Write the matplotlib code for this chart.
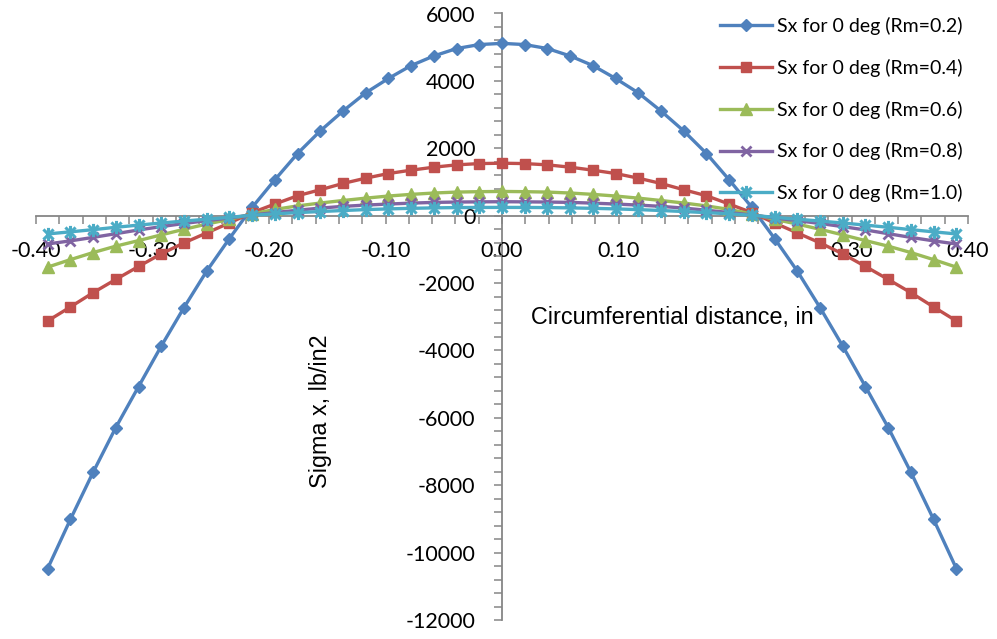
import matplotlib
matplotlib.use("Agg")
import matplotlib.pyplot as plt
from matplotlib.path import Path
from matplotlib.ticker import MultipleLocator, FormatStrFormatter

plt.rcParams['axes.unicode_minus'] = False

# circumferential positions of the computed stations (in)
distance = [-0.3900, -0.3705, -0.3510, -0.3315, -0.3120, -0.2925, -0.2730,
            -0.2535, -0.2340, -0.2145, -0.1950, -0.1755, -0.1560, -0.1365,
            -0.1170, -0.0975, -0.0780, -0.0585, -0.0390, -0.0195, 0.0000,
            0.0195, 0.0390, 0.0585, 0.0780, 0.0975, 0.1170, 0.1365,
            0.1560, 0.1755, 0.1950, 0.2145, 0.2340, 0.2535, 0.2730,
            0.2925, 0.3120, 0.3315, 0.3510, 0.3705, 0.3900]

# Sigma x (lb/in2) for each mean radius
sx_rm02 = [-10473, -9016, -7617, -6287, -5075, -3872, -2729, -1646, -680, 245,
           1064, 1845, 2515, 3105, 3645, 4072, 4455, 4740, 4960, 5078, 5114,
           5078, 4960, 4740, 4455, 4072, 3645, 3105, 2515, 1845, 1064,
           245, -680, -1646, -2729, -3872, -5075, -6287, -7617, -9016, -10473]
sx_rm04 = [-3124, -2710, -2286, -1892, -1508, -1133, -808, -512, -217, 90,
           345, 591, 769, 956, 1113, 1251, 1350, 1439, 1508, 1546, 1557,
           1546, 1508, 1439, 1350, 1251, 1113, 956, 769, 591, 345,
           90, -217, -512, -808, -1133, -1508, -1892, -2286, -2710, -3124]
sx_rm06 = [-1527, -1305, -1095, -905, -740, -570, -405, -250, -110, 50,
           185, 290, 375, 450, 520, 583, 632, 672, 700, 712, 719,
           712, 700, 672, 632, 583, 520, 450, 375, 290, 185,
           50, -110, -250, -405, -570, -740, -905, -1095, -1305, -1527]
sx_rm08 = [-840, -748, -645, -535, -424, -325, -232, -148, -68, 20,
           92, 162, 225, 276, 314, 345, 372, 394, 404, 410, 414,
           410, 404, 394, 372, 345, 314, 276, 225, 162, 92,
           20, -68, -148, -232, -325, -424, -535, -645, -748, -840]
sx_rm10 = [-542, -480, -415, -345, -280, -218, -160, -105, -49, 12,
           55, 90, 123, 153, 180, 201, 218, 231, 240, 244, 245,
           244, 240, 231, 218, 201, 180, 153, 123, 90, 55,
           12, -49, -105, -160, -218, -280, -345, -415, -480, -542]

labels = ["Sx for 0 deg (Rm=0.2)", "Sx for 0 deg (Rm=0.4)",
          "Sx for 0 deg (Rm=0.6)", "Sx for 0 deg (Rm=0.8)",
          "Sx for 0 deg (Rm=1.0)"]
colors = ["#4F81BD", "#C0504D", "#9BBB59", "#8064A2", "#4BACC6"]

# six-armed asterisk marker
star = Path([(-1, -1), (1, 1), (-1, 1), (1, -1), (0, -1.3), (0, 1.3)],
            [Path.MOVETO, Path.LINETO, Path.MOVETO, Path.LINETO,
             Path.MOVETO, Path.LINETO])

styles = [dict(marker="D", ms=6.4),
          dict(marker="s", ms=6.8),
          dict(marker="^", ms=8.6),
          dict(marker="x", ms=7.2, mew=2.0),
          dict(marker=star, ms=9.5, mew=2.2)]

W, H = 997, 639
fig = plt.figure(figsize=(W / 100, H / 100), dpi=100)
ax = fig.add_axes([36 / W, 19 / H, 932 / W, 606.5 / H])

series = [sx_rm02, sx_rm04, sx_rm06, sx_rm08, sx_rm10]
for vals, lab, col, st in zip(series, labels, colors, styles):
    ax.plot(distance, vals, color=col, lw=2.4, label=lab, zorder=3,
            mec=col, mfc=col, **st)

ax.set_xlim(-0.4, 0.4)
ax.set_ylim(-12000, 6000)

axis_gray = "#868686"
for side in ("top", "right"):
    ax.spines[side].set_visible(False)
ax.spines["left"].set_position(("data", 0))
ax.spines["bottom"].set_position(("data", 0))
for side in ("left", "bottom"):
    ax.spines[side].set_color(axis_gray)
    ax.spines[side].set_linewidth(1.3)
    ax.spines[side].set_zorder(1)

ax.xaxis.set_major_locator(MultipleLocator(0.1))
ax.xaxis.set_minor_locator(MultipleLocator(0.02))
ax.xaxis.set_major_formatter(FormatStrFormatter("%.2f"))
ax.yaxis.set_major_locator(MultipleLocator(2000))
ax.yaxis.set_minor_locator(MultipleLocator(400))
ax.yaxis.set_major_formatter(FormatStrFormatter("%d"))

ax.tick_params(which="both", direction="out", length=6, width=1.1,
               color=axis_gray)
ax.tick_params(axis="x", which="major", pad=12, labelsize=15.5)
ax.tick_params(axis="y", which="major", pad=13, labelsize=15.5)
for t in ax.get_xticklabels() + ax.get_yticklabels():
    t.set_fontfamily("Lato")

title_font = dict(family="Liberation Sans", size=16.8)
fig.text(531 / W, 1 - 317 / H, "Circumferential distance, in",
         ha="left", va="center", **title_font)
fig.text(320 / W, 1 - 411 / H, "Sigma x, lb/in2", rotation=90,
         ha="center", va="center", **title_font)

ax.legend(loc="upper left", bbox_to_anchor=(720 / W, 1 - 17 / H),
          bbox_transform=fig.transFigure, frameon=False,
          prop=dict(family="Lato", size=14), handlelength=2.67,
          handletextpad=0.26, labelspacing=1.22, borderpad=0,
          borderaxespad=0, numpoints=1)

fig.savefig("out.png", dpi=100)
